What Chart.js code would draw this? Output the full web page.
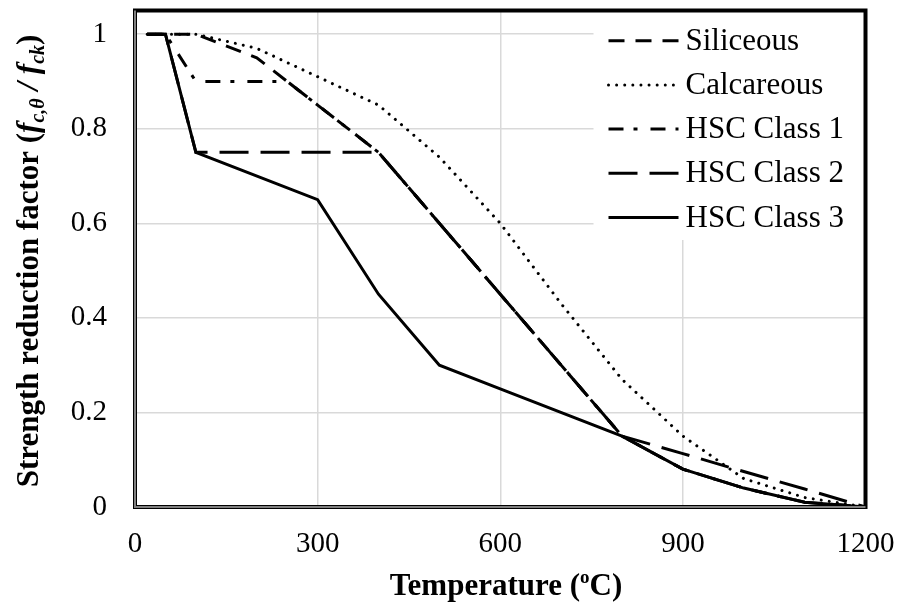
<!DOCTYPE html>
<html>
<head>
<meta charset="utf-8">
<script src="https://cdn.jsdelivr.net/npm/chart.js@4.4.0/dist/chart.umd.min.js"></script>
<style>
  html, body { margin: 0; padding: 0; background: #fff; overflow: hidden; }
  #wrap { width: 902px; height: 602px; position: relative; }
</style>
</head>
<body>
<div id="wrap"><canvas id="reductionChart"></canvas></div>
<script>
// Temperature (ºC) and strength reduction factors; null = no table value (line spans it)
const temperatures = [20, 50, 100, 200, 250, 300, 400, 500, 600, 700, 800, 900, 1000, 1100, 1200];
const siliceous  = [1, null, 1, 0.95, null, 0.85, 0.75, 0.60, 0.45, 0.30, 0.15, 0.08, 0.04, 0.01, 0];
const calcareous = [1, null, 1, 0.97, null, 0.91, 0.85, 0.74, 0.60, 0.43, 0.27, 0.15, 0.06, 0.02, 0];
const hscClass1  = [1, 1, 0.90, 0.90, 0.90, 0.85, 0.75, 0.60, 0.45, 0.30, 0.15, 0.08, 0.04, 0.01, 0];
const hscClass2  = [1, 1, 0.75, null, null, null, 0.75, null, null, null, 0.15, 0.113, 0.075, 0.038, 0];
const hscClass3  = [1, 1, 0.75, null, null, 0.65, 0.45, 0.30, 0.25, null, 0.15, 0.08, 0.04, 0.01, 0];
const seriesNames = ["Siliceous", "Calcareous", "HSC Class 1", "HSC Class 2", "HSC Class 3"];
const xTicks = [0, 300, 600, 900, 1200];
const yTicks = [0, 0.2, 0.4, 0.6, 0.8, 1];

const serif = "'Liberation Serif', 'Times New Roman', serif";

// dash pattern + cap for each curve
const lineStyles = [
  { dash: [16, 11], cap: "butt" },
  { dash: [0.01, 8.1], cap: "round" },
  { dash: [15, 10, 4, 13], cap: "butt" },
  { dash: [29, 12], cap: "butt" },
  { dash: [], cap: "butt" },
];

const allSeries = [siliceous, calcareous, hscClass1, hscClass2, hscClass3];

const datasets = allSeries.map((vals, i) => ({
  label: seriesNames[i],
  data: temperatures.map((t, k) => ({ x: t, y: vals[k] })),
  borderColor: "#000",
  borderWidth: 3,
  borderDash: lineStyles[i].dash,
  borderCapStyle: lineStyles[i].cap,
  borderJoinStyle: "miter",
  pointRadius: 0,
  tension: 0,
  spanGaps: true,
  fill: false,
}));

// draws text pieces with different fonts/offsets on one baseline, centred on x
function drawPieces(ctx, pieces, x, y) {
  let total = 0;
  pieces.forEach(p => { ctx.font = p.font; total += ctx.measureText(p.text).width; });
  let cx = x - total / 2;
  pieces.forEach(p => {
    ctx.font = p.font;
    ctx.fillText(p.text, cx, y + (p.dy || 0));
    cx += ctx.measureText(p.text).width;
  });
}

// fixed axis sizes, no extra padding for edge labels
function fixScale(size) {
  return (scale) => {
    if (scale.isHorizontal()) scale.height = size; else scale.width = size;
    scale.paddingLeft = scale.paddingRight = scale.paddingTop = scale.paddingBottom = 0;
  };
}

const legendAndFrame = {
  id: "legendAndFrame",
  afterDatasetsDraw(chart) {
    const { ctx, chartArea: a } = chart;
    ctx.save();

    // legend panel in the top right corner
    const boxLeft = a.right - 272;
    ctx.fillStyle = "#fff";
    ctx.fillRect(boxLeft, a.top, a.right - boxLeft, 240 - a.top);

    ctx.font = "31px " + serif;
    ctx.textBaseline = "middle";
    ctx.textAlign = "left";
    chart.data.datasets.forEach((ds, i) => {
      const y = a.top + 30.2 + i * 44.2;
      ctx.strokeStyle = "#000";
      ctx.lineWidth = 3;
      ctx.lineCap = ds.borderCapStyle;
      ctx.setLineDash(ds.borderDash);
      ctx.beginPath();
      ctx.moveTo(boxLeft + 15, y);
      ctx.lineTo(boxLeft + 85, y);
      ctx.stroke();
      ctx.setLineDash([]);
      ctx.fillStyle = "#000";
      ctx.fillText(ds.label, boxLeft + 92, y + 1);
    });

    // plot area border + grey axis lines
    ctx.lineCap = "butt";
    ctx.strokeStyle = "#000";
    ctx.lineWidth = 4;
    ctx.strokeRect(a.left, a.top, a.right - a.left, a.bottom - a.top);
    ctx.strokeStyle = "#808080";
    ctx.lineWidth = 2;
    ctx.beginPath();
    ctx.moveTo(a.left, a.top);
    ctx.lineTo(a.left, a.bottom);
    ctx.lineTo(a.right, a.bottom);
    ctx.stroke();
    ctx.restore();
  },
  afterDraw(chart) {
    const { ctx } = chart;
    ctx.save();
    ctx.fillStyle = "#000";
    ctx.textBaseline = "alphabetic";
    ctx.textAlign = "left";

    const b = "bold 31px " + serif;
    const bi = "italic bold 31px " + serif;
    const biSub = "italic bold 20px " + serif;

    drawPieces(ctx, [
      { text: "Temperature (", font: b },
      { text: "o", font: "bold 19px " + serif, dy: -12 },
      { text: "C)", font: b },
    ], 506, 595);

    ctx.translate(38, 261);
    ctx.rotate(-Math.PI / 2);
    drawPieces(ctx, [
      { text: "Strength reduction factor (", font: b },
      { text: "f", font: bi },
      { text: "c,θ", font: biSub, dy: 6 },
      { text: " / ", font: bi },
      { text: "f", font: bi },
      { text: "ck", font: biSub, dy: 6 },
      { text: ")", font: b },
    ], 0, 0);
    ctx.restore();
  },
};

Chart.defaults.font.family = serif;
Chart.defaults.color = "#000";

const ctx = document.getElementById("reductionChart").getContext("2d");
new Chart(ctx, {
  type: "line",
  data: { datasets: datasets },
  options: {
    responsive: true,
    maintainAspectRatio: false,
    animation: false,
    layout: { padding: { top: 10.5, right: 36.5, left: 0, bottom: 0 } },
    plugins: {
      legend: { display: false },
      tooltip: { enabled: false },
    },
    scales: {
      x: {
        type: "linear",
        min: 0,
        max: 1200,
        afterBuildTicks: (scale) => { scale.ticks = xTicks.map(v => ({ value: v })); },
        afterFit: fixScale(95),
        ticks: {
          font: { size: 29 },
          padding: 20,
          maxRotation: 0,
          callback: (v) => String(v),
        },
        grid: { color: "#d9d9d9", lineWidth: 1.5, drawTicks: false },
        border: { display: false },
      },
      y: {
        type: "linear",
        min: 0,
        max: 1.05,
        afterBuildTicks: (scale) => { scale.ticks = yTicks.map(v => ({ value: v })); },
        afterFit: fixScale(135),
        ticks: {
          font: { size: 29 },
          padding: 28,
          callback: (v) => String(v),
        },
        grid: { color: "#d9d9d9", lineWidth: 1.5, drawTicks: false },
        border: { display: false },
      },
    },
  },
  plugins: [legendAndFrame],
});
</script>
</body>
</html>
